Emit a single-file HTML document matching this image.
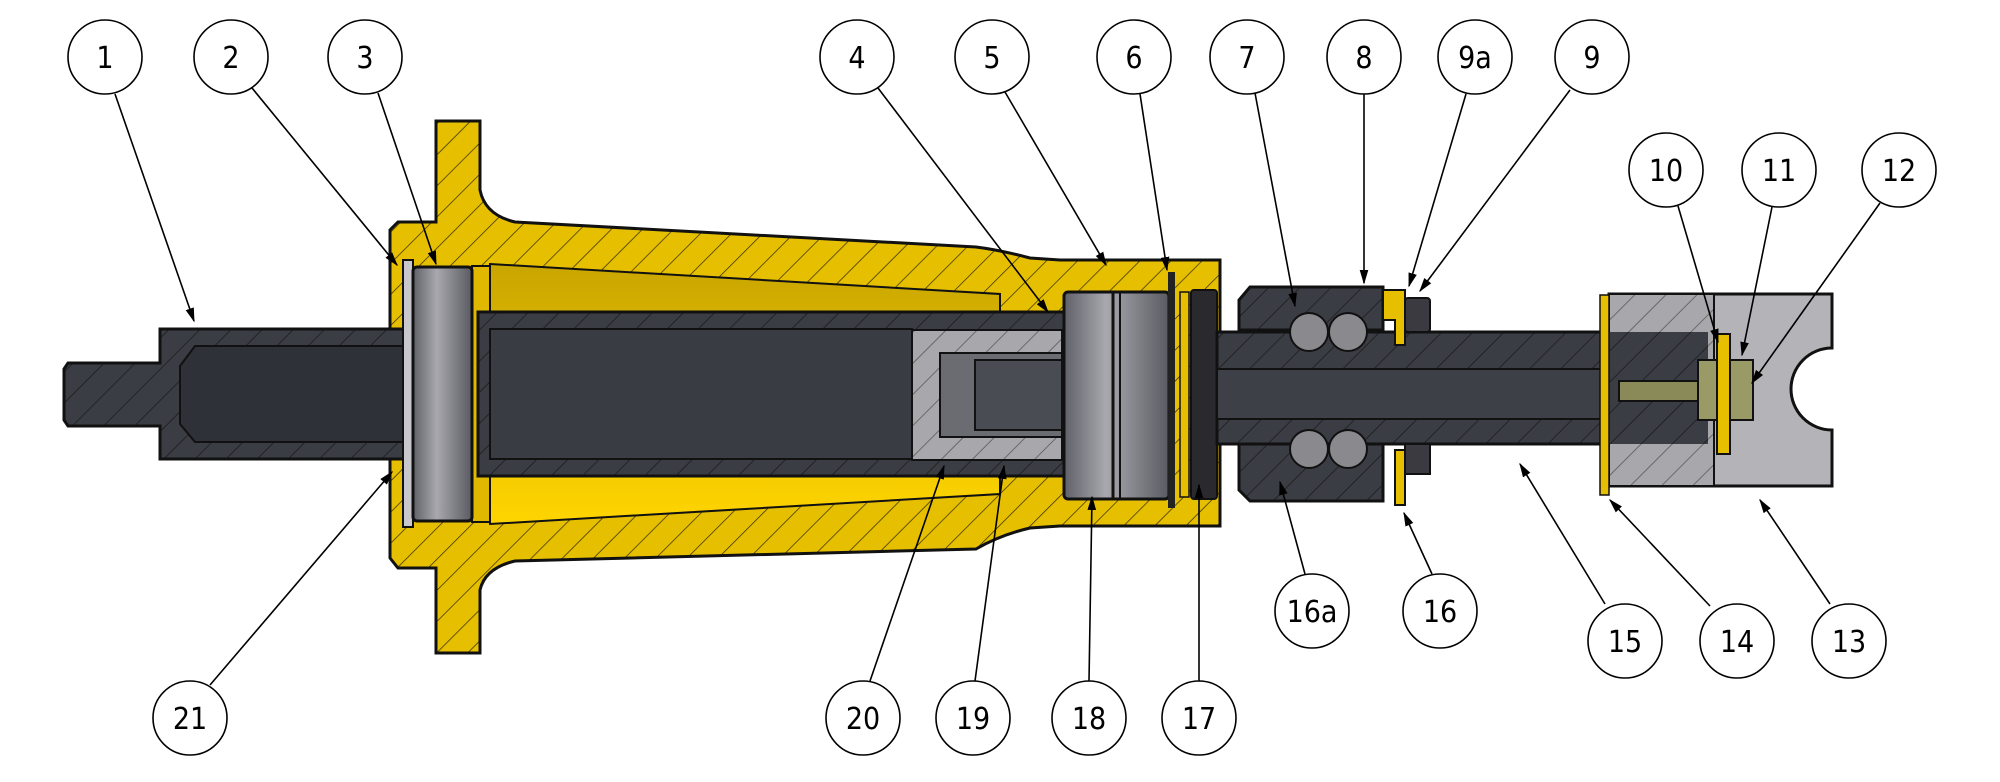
<!DOCTYPE html>
<html><head><meta charset="utf-8"><style>html,body{margin:0;padding:0;background:#fff}svg{display:block}</style></head><body>
<svg width="2000" height="782" viewBox="0 0 2000 782" xmlns="http://www.w3.org/2000/svg">
<defs>
<pattern id="hy" width="22" height="22" patternUnits="userSpaceOnUse" patternTransform="rotate(45)"><rect width="22" height="22" fill="#e6c000"/><line x1="0" y1="0" x2="0" y2="22" stroke="#3a3000" stroke-width="1.5"/></pattern>
<pattern id="hd" width="22" height="22" patternUnits="userSpaceOnUse" patternTransform="rotate(45)"><rect width="22" height="22" fill="#3b3d44"/><line x1="0" y1="0" x2="0" y2="22" stroke="#1a1a1a" stroke-width="1.5"/></pattern>
<pattern id="hg" width="22" height="22" patternUnits="userSpaceOnUse" patternTransform="rotate(45)"><rect width="22" height="22" fill="#a8a8ac"/><line x1="0" y1="0" x2="0" y2="22" stroke="#555" stroke-width="1.5"/></pattern>
<linearGradient id="disc" x1="0" x2="1"><stop offset="0" stop-color="#606168"/><stop offset=".4" stop-color="#a8a8ae"/><stop offset="1" stop-color="#5a5b62"/></linearGradient>
<linearGradient id="bore" x1="0" y1="0" x2="0" y2="1"><stop offset="0" stop-color="#c9a600"/><stop offset="1" stop-color="#ffd500"/></linearGradient>
<marker id="ar" viewBox="0 0 10 10" refX="9" refY="5" markerWidth="9" markerHeight="9" orient="auto"><path d="M0,2 L10,5 L0,8 z" fill="#000"/></marker>
</defs>
<path d="M436,121 H480 V190 Q485,215 515,222 L976,247 Q1000,250 1030,258 L1060,260 H1220 V526 H1060 L1030,528 Q1000,535 976,549 L515,561 Q485,568 480,590 V653 H436 V568 H398 L390,558 V230 L398,222 H436 Z" fill="url(#hy)" stroke="#111" stroke-width="3"/>
<path d="M490,264 L1000,294 V494 L490,524 Z" fill="url(#bore)" stroke="#111" stroke-width="2"/>
<rect x="472" y="266" width="18" height="256" fill="#e0b800" stroke="#111" stroke-width="2"/>
<rect x="478" y="312" width="590" height="164" fill="url(#hd)" stroke="#111" stroke-width="3"/>
<rect x="490" y="329" width="422" height="130" fill="#3a3c44" stroke="#111" stroke-width="2"/>
<rect x="912" y="330" width="150" height="130" fill="url(#hg)" stroke="#111" stroke-width="2"/>
<rect x="940" y="353" width="122" height="84" fill="#6a6c72" stroke="#111" stroke-width="2"/>
<rect x="975" y="360" width="87" height="70" fill="#4a4c54" stroke="#111" stroke-width="2"/>
<path d="M160,329 H408 V459 H160 V426 H68 L64,420 V369 L68,363 H160 Z" fill="url(#hd)" stroke="#111" stroke-width="3"/>
<path d="M180,366 L195,346 H408 V442 H195 L180,424 Z" fill="#2f3138" stroke="#111" stroke-width="2"/>
<rect x="403" y="260" width="10" height="267" fill="#c8c8cc" stroke="#111" stroke-width="2"/>
<rect x="413" y="267" width="59" height="254" rx="4" fill="url(#disc)" stroke="#111" stroke-width="3"/>
<rect x="1064" y="292" width="105" height="207" rx="4" fill="url(#disc)" stroke="#111" stroke-width="3"/>
<line x1="1113" y1="292" x2="1113" y2="499" stroke="#111" stroke-width="3"/>
<line x1="1120" y1="292" x2="1120" y2="499" stroke="#111" stroke-width="2"/>
<rect x="1168" y="272" width="7" height="236" fill="#222"/>
<rect x="1180" y="292" width="9" height="205" fill="#e6c000" stroke="#111" stroke-width="1.5"/>
<rect x="1191" y="290" width="26" height="209" rx="3" fill="#2a2a2e" stroke="#111" stroke-width="2"/>
<path d="M1250,287 H1383 V330 H1239 V300 Z" fill="url(#hd)" stroke="#111" stroke-width="3"/>
<path d="M1239,444 H1383 V501 H1250 L1239,490 Z" fill="url(#hd)" stroke="#111" stroke-width="3"/>
<rect x="1217" y="332" width="491" height="112" fill="url(#hd)" stroke="#111" stroke-width="3"/>
<rect x="1217" y="369" width="424" height="50" fill="#3e4048" stroke="#111" stroke-width="2"/>
<circle cx="1309" cy="332" r="19" fill="#8a8a8e" stroke="#111" stroke-width="2"/>
<circle cx="1348" cy="332" r="19" fill="#8a8a8e" stroke="#111" stroke-width="2"/>
<circle cx="1309" cy="449" r="19" fill="#8a8a8e" stroke="#111" stroke-width="2"/>
<circle cx="1348" cy="449" r="19" fill="#8a8a8e" stroke="#111" stroke-width="2"/>
<path d="M1383,290 H1405 V345 H1395 V320 H1383 Z" fill="#e6c000" stroke="#111" stroke-width="2"/>
<rect x="1405" y="298" width="25" height="34" rx="3" fill="#3a3a40" stroke="#111" stroke-width="2"/>
<rect x="1395" y="450" width="10" height="55" fill="#e6c000" stroke="#111" stroke-width="2"/>
<rect x="1405" y="444" width="25" height="30" fill="#3a3a40" stroke="#111" stroke-width="2"/>
<path d="M1609,294 H1832 V348 A41,41 0 0 0 1832,430 V486 H1609 Z" fill="#b4b4b8" stroke="#111" stroke-width="3"/>
<rect x="1609" y="294" width="105" height="192" fill="url(#hg)" stroke="#111" stroke-width="2"/>
<rect x="1609" y="332" width="99" height="112" fill="url(#hd)"/>
<rect x="1600" y="295" width="9" height="200" fill="#e6c000" stroke="#111" stroke-width="1.5"/>
<rect x="1619" y="381" width="100" height="20" fill="#8a8a58" stroke="#111" stroke-width="2"/>
<rect x="1698" y="360" width="55" height="60" fill="#9a9a66" stroke="#111" stroke-width="2"/>
<rect x="1717" y="334" width="13" height="120" fill="#e6c000" stroke="#111" stroke-width="2"/>
<g stroke="#000" stroke-width="1.6" fill="none" marker-end="url(#ar)">
<line x1="115" y1="94" x2="194" y2="321"/><line x1="252" y1="88" x2="397" y2="265"/><line x1="378" y1="93" x2="436" y2="264"/>
<line x1="878" y1="88" x2="1048" y2="312"/><line x1="1005" y1="92" x2="1106" y2="265"/><line x1="1140" y1="94" x2="1167" y2="270"/>
<line x1="1255" y1="93" x2="1295" y2="306"/><line x1="1364" y1="94" x2="1364" y2="283"/><line x1="1466" y1="94" x2="1409" y2="286"/>
<line x1="1570" y1="90" x2="1420" y2="291"/><line x1="1678" y1="206" x2="1718" y2="342"/><line x1="1772" y1="207" x2="1742" y2="355"/>
<line x1="1880" y1="203" x2="1752" y2="383"/><line x1="1830" y1="604" x2="1760" y2="500"/><line x1="1710" y1="606" x2="1610" y2="500"/>
<line x1="1605" y1="604" x2="1520" y2="464"/><line x1="1432" y1="574" x2="1404" y2="513"/><line x1="1305" y1="574" x2="1280" y2="482"/>
<line x1="1199" y1="681" x2="1199" y2="485"/><line x1="1089" y1="681" x2="1092" y2="497"/><line x1="975" y1="681" x2="1004" y2="466"/>
<line x1="870" y1="681" x2="944" y2="466"/><line x1="210" y1="685" x2="392" y2="472"/>
</g>
<g fill="#fff" stroke="#000" stroke-width="1.6">
<circle cx="105" cy="57" r="37"/><circle cx="231" cy="57" r="37"/><circle cx="365" cy="57" r="37"/><circle cx="857" cy="57" r="37"/><circle cx="992" cy="57" r="37"/><circle cx="1134" cy="57" r="37"/><circle cx="1247" cy="57" r="37"/><circle cx="1364" cy="57" r="37"/><circle cx="1475" cy="57" r="37"/><circle cx="1592" cy="57" r="37"/>
<circle cx="1666" cy="170" r="37"/><circle cx="1779" cy="170" r="37"/><circle cx="1899" cy="170" r="37"/>
<circle cx="1625" cy="641" r="37"/><circle cx="1737" cy="641" r="37"/><circle cx="1849" cy="641" r="37"/><circle cx="1312" cy="611" r="37"/><circle cx="1440" cy="611" r="37"/>
<circle cx="190" cy="718" r="37"/><circle cx="863" cy="718" r="37"/><circle cx="973" cy="718" r="37"/><circle cx="1089" cy="718" r="37"/><circle cx="1199" cy="718" r="37"/>
</g>
<g font-family="'DejaVu Sans Condensed','DejaVu Sans',sans-serif" font-size="30" text-anchor="middle" fill="#000">
<text x="105" y="68">1</text><text x="231" y="68">2</text><text x="365" y="68">3</text><text x="857" y="68">4</text><text x="992" y="68">5</text><text x="1134" y="68">6</text><text x="1247" y="68">7</text><text x="1364" y="68">8</text><text x="1475" y="68">9a</text><text x="1592" y="68">9</text>
<text x="1666" y="181">10</text><text x="1779" y="181">11</text><text x="1899" y="181">12</text>
<text x="1625" y="652">15</text><text x="1737" y="652">14</text><text x="1849" y="652">13</text><text x="1312" y="622">16a</text><text x="1440" y="622">16</text>
<text x="190" y="729">21</text><text x="863" y="729">20</text><text x="973" y="729">19</text><text x="1089" y="729">18</text><text x="1199" y="729">17</text>
</g>
</svg>
</body></html>
